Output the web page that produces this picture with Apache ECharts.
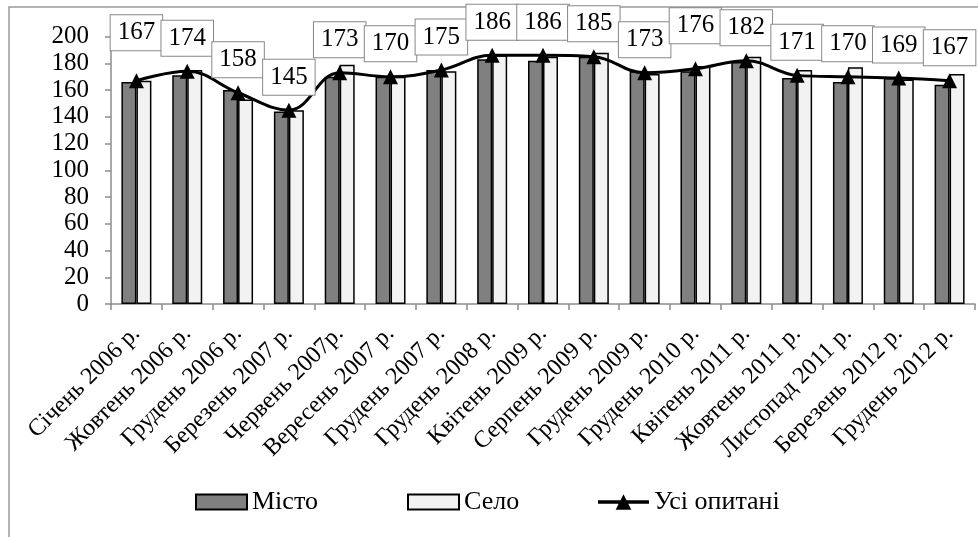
<!DOCTYPE html>
<html>
<head>
<meta charset="utf-8">
<script src="https://cdn.jsdelivr.net/npm/echarts@6/dist/echarts.min.js"></script>
<style>
html,body{margin:0;padding:0;background:#fff;}
#chart{width:978px;height:537px;}
</style>
</head>
<body>
<div id="chart"></div>
<script>
var categories = ["Січень 2006 р.", "Жовтень 2006 р.", "Грудень 2006 р.", "Березень 2007 р.", "Червень 2007р.", "Вересень 2007 р.", "Грудень 2007 р.", "Грудень 2008 р.", "Квітень 2009 р.", "Серпень 2009 р.", "Грудень 2009 р.", "Грудень 2010 р.", "Квітень 2011 р.", "Жовтень 2011 р.", "Листопад 2011 р.", "Березень 2012 р.", "Грудень 2012 р."];
var misto = [166, 171, 160, 144, 170, 170, 175, 183, 182, 185, 174, 174, 181, 169, 166, 169, 164];
var selo = [167, 175, 153, 145, 179, 170, 174, 186, 185, 188, 172, 178, 185, 175, 177, 168, 172];
var usi = [167, 174, 158, 145, 173, 170, 175, 186, 186, 185, 173, 176, 182, 171, 170, 169, 167];
var seriesNames = ["Місто", "Село", "Усі опитані"];
var yTicks = {min: 0, max: 200, interval: 20};

var FONT = "'Liberation Serif', 'DejaVu Serif', serif";
var chart = echarts.init(document.getElementById('chart'), null, {renderer: 'canvas'});

var lineData = usi.map(function (v, i) {
  var item = {value: v};
  if (i === 0) item.label = {offset: [0, -15]};
  if (i === 11) item.label = {offset: [0, -10]};
  return item;
});

var legendBase = {
  top: 489,
  padding: 0,
  itemWidth: 51,
  itemHeight: 15,
  itemGap: 0,
  textStyle: {fontFamily: FONT, fontSize: 26, color: '#000'}
};

var lineIcon = 'path://M0,6.2 L52,6.2 L52,9.8 L0,9.8 Z M26,0 L34,16 L18,16 Z';

var option = {
  animation: false,
  backgroundColor: '#fff',
  graphic: [{
    type: 'rect',
    shape: {x: 9, y: 7, width: 1200, height: 800},
    style: {fill: 'none', stroke: '#9a9a9a', lineWidth: 1.5},
    silent: true
  }],
  legend: [
    Object.assign({}, legendBase, {left: 195, data: [{name: seriesNames[0], icon: 'rect'}]}),
    Object.assign({}, legendBase, {left: 407, data: [{name: seriesNames[1], icon: 'rect'}]}),
    Object.assign({}, legendBase, {left: 598, itemHeight: 16, data: [{name: seriesNames[2], icon: lineIcon, itemStyle: {color: '#000', borderWidth: 0}}]})
  ],
  grid: {left: 111, right: 3, top: 36.6, bottom: 233, containLabel: false},
  xAxis: {
    type: 'category',
    data: categories,
    boundaryGap: true,
    axisLine: {lineStyle: {color: '#8c8c8c', width: 1.5}},
    axisTick: {show: true, length: 6, lineStyle: {color: '#8c8c8c', width: 1.5}},
    axisLabel: {
      interval: 0,
      rotate: 45,
      margin: 26,
      fontFamily: FONT,
      fontSize: 24,
      color: '#000'
    },
    splitLine: {show: false}
  },
  yAxis: {
    type: 'value',
    min: yTicks.min,
    max: yTicks.max,
    interval: yTicks.interval,
    axisLine: {show: true, lineStyle: {color: '#8c8c8c', width: 1.5}},
    axisTick: {show: true, length: 6, lineStyle: {color: '#8c8c8c', width: 1.5}},
    axisLabel: {margin: 22, fontFamily: FONT, fontSize: 25, color: '#000'},
    splitLine: {show: false}
  },
  series: [
    {
      name: seriesNames[0],
      type: 'bar',
      data: misto,
      barWidth: 15,
      barGap: '0%',
      itemStyle: {color: '#808080', borderColor: '#000', borderWidth: 1.5}
    },
    {
      name: seriesNames[1],
      type: 'bar',
      data: selo,
      barWidth: 15,
      barGap: '0%',
      itemStyle: {color: '#f2f2f2', borderColor: '#000', borderWidth: 1.5}
    },
    {
      name: seriesNames[2],
      type: 'line',
      data: lineData,
      smooth: 0.4,
      symbol: 'triangle',
      symbolSize: 15,
      z: 5,
      lineStyle: {color: '#000', width: 3},
      itemStyle: {color: '#000'},
      label: {
        show: true,
        position: 'top',
        distance: 8,
        fontFamily: FONT,
        fontSize: 25,
        lineHeight: 25,
        color: '#000',
        backgroundColor: '#fff',
        borderColor: '#888',
        borderWidth: 1,
        padding: [5, 7, 5, 7]
      }
    }
  ]
};
chart.setOption(option);
</script>
</body>
</html>
